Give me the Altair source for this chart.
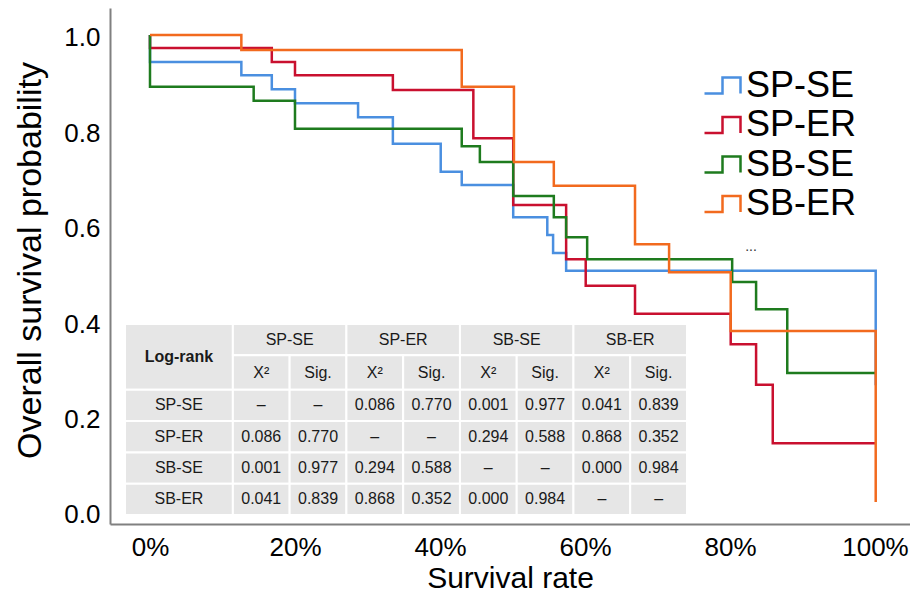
import altair as alt
import pandas as pd

# ---------------- data ----------------
GROUPS = ["SP-SE", "SP-ER", "SB-SE", "SB-ER"]
COLORS = ["#4a8fe0", "#c9102f", "#1e7b1e", "#f26a1e"]

# Kaplan-Meier step points (x = survival rate %, y = survival probability)
SP_SE_T = [0, 0, 12.6, 16.8, 20.0, 28.7, 33.5, 40.1, 43.0, 50.1, 54.8, 55.6, 57.4, 100.1, 100.1]
SP_SE_S = [1.0, 0.942, 0.914, 0.884, 0.854, 0.824, 0.767, 0.707, 0.679, 0.610, 0.572, 0.533, 0.495, 0.495, 0.250]
SP_ER_T = [0, 0, 16.8, 20.0, 33.5, 44.6, 50.1, 57.4, 60.1, 66.9, 80.1, 83.6, 85.9, 100.1]
SP_ER_S = [1.0, 0.972, 0.942, 0.914, 0.882, 0.779, 0.636, 0.520, 0.463, 0.403, 0.338, 0.251, 0.126, 0.126]
SB_SE_T = [0, 0, 14.3, 20.0, 43.0, 45.5, 50.1, 55.7, 57.4, 60.3, 80.3, 83.6, 87.9, 100.1]
SB_SE_S = [1.0, 0.889, 0.859, 0.799, 0.762, 0.728, 0.655, 0.610, 0.567, 0.520, 0.471, 0.413, 0.276, 0.276]
SB_ER_T = [0, 12.6, 43.0, 50.2, 55.7, 66.9, 71.6, 80.1, 100.1, 100.1]
SB_ER_S = [1.0, 0.968, 0.889, 0.728, 0.677, 0.552, 0.492, 0.366, 0.366, 0.0]

X_TICKS = [0, 20, 40, 60, 80, 100]
Y_TICKS = [0.0, 0.2, 0.4, 0.6, 0.8, 1.0]

# Log-rank table
TABLE_CORNER = "Log-rank"
TABLE_SUB = ["X\u00b2", "Sig."]
CHI2 = [[None, 0.086, 0.001, 0.041],
        [0.086, None, 0.294, 0.868],
        [0.001, 0.294, None, 0.000],
        [0.041, 0.868, 0.000, None]]
SIG = [[None, 0.770, 0.977, 0.839],
       [0.770, None, 0.588, 0.352],
       [0.977, 0.588, None, 0.984],
       [0.839, 0.352, 0.984, None]]

NOTE_TEXT = ["..."]
NOTE_T = [82.9]
NOTE_S = [0.545]

# ---------------- layout ----------------
W, H = 800, 516
FONT = "Liberation Sans"
X_DOM = [-5.517, 104.83]
CURVE_Y_DOM = [-0.04711, 1.05782]
LABEL_Y_DOM = [-0.01887, 1.06289]

COL_W = [1.9] + [1.0] * 8
ROW_H = [1.0, 1.1, 1.0, 1.0, 1.0, 1.0]
TABLE_X_RANGE = [15, 577]
TABLE_Y_RANGE = [316, 507]

# ---------------- build tables ----------------
series = {"SP-SE": (SP_SE_T, SP_SE_S), "SP-ER": (SP_ER_T, SP_ER_S),
          "SB-SE": (SB_SE_T, SB_SE_S), "SB-ER": (SB_ER_T, SB_ER_S)}
rows = []
for g, (ts, ss) in series.items():
    for i, (t, s) in enumerate(zip(ts, ss)):
        rows.append({"group": g, "t": t, "s": s, "i": i})
km = pd.DataFrame(rows)

col_e = [0.0]
for w in COL_W:
    col_e.append(col_e[-1] + w)
row_e = [0.0]
for h in ROW_H:
    row_e.append(row_e[-1] + h)


def fmt(v):
    return "\u2013" if v is None else f"{v:.3f}"


cells = []


def add(c0, c1, r0, r1, label, bold=0):
    cells.append({"x0": col_e[c0], "x1": col_e[c1], "y0": row_e[r0], "y1": row_e[r1],
                  "xc": (col_e[c0] + col_e[c1]) / 2, "yc": (row_e[r0] + row_e[r1]) / 2,
                  "label": label, "bold": bold})


add(0, 1, 0, 2, TABLE_CORNER, 1)
for k, g in enumerate(GROUPS):
    add(1 + 2 * k, 3 + 2 * k, 0, 1, g)
    add(1 + 2 * k, 2 + 2 * k, 1, 2, TABLE_SUB[0])
    add(2 + 2 * k, 3 + 2 * k, 1, 2, TABLE_SUB[1])
for r, g in enumerate(GROUPS):
    add(0, 1, 2 + r, 3 + r, g)
    for k in range(4):
        add(1 + 2 * k, 2 + 2 * k, 2 + r, 3 + r, fmt(CHI2[r][k]))
        add(2 + 2 * k, 3 + 2 * k, 2 + r, 3 + r, fmt(SIG[r][k]))
tbl = pd.DataFrame(cells)

note = pd.DataFrame({"t": NOTE_T, "s": NOTE_S, "txt": NOTE_TEXT})
yticks = pd.DataFrame({"v": Y_TICKS})

# ---------------- chart ----------------
STEP_SYMBOL = "M -1 0.45 L 0 0.45 L 0 -0.45 L 1 -0.45 L 1 0.45"

curves = alt.Chart(km).mark_line(interpolate="step-after", strokeWidth=2.5).encode(
    x=alt.X("t:Q", scale=alt.Scale(domain=X_DOM, nice=False, zero=False),
            axis=alt.Axis(values=X_TICKS, labelExpr="datum.value + '%'", title="Survival rate",
                          grid=False, ticks=False, domainColor="#808080", domainWidth=2,
                          labelFontSize=26, labelFont=FONT, labelColor="black", labelPadding=10,
                          labelFlush=False, labelOverlap=False,
                          titleFontSize=30, titleFont=FONT, titleFontWeight="normal",
                          titleColor="black", titleY=63.5, titleBaseline="alphabetic")),
    y=alt.Y("s:Q", scale=alt.Scale(domain=CURVE_Y_DOM, nice=False, zero=False), axis=None),
    color=alt.Color("group:N", scale=alt.Scale(domain=GROUPS, range=COLORS),
                    legend=alt.Legend(title=None, orient="none", legendX=593, legendY=58,
                                      symbolType=STEP_SYMBOL, symbolSize=1296,
                                      symbolStrokeWidth=2.5, symbolFillColor="transparent",
                                      labelFontSize=36, labelFont=FONT, labelColor="black",
                                      labelOffset=4, rowPadding=1.5, padding=0, labelLimit=400)),
    order=alt.Order("i:Q"),
)

yaxis_layer = alt.Chart(yticks).mark_point(opacity=0).encode(
    y=alt.Y("v:Q", scale=alt.Scale(domain=LABEL_Y_DOM, nice=False, zero=False),
            axis=alt.Axis(orient="left", values=Y_TICKS, format=".1f",
                          title="Overall survival probability",
                          grid=False, ticks=False, domainColor="#808080", domainWidth=2,
                          labelFontSize=26, labelFont=FONT, labelColor="black", labelPadding=10,
                          labelFlush=False, labelOverlap=False,
                          titleFontSize=34, titleFont=FONT, titleFontWeight="normal",
                          titleColor="black", titleX=-70, titleY=252,
                          titleBaseline="alphabetic")),
)

note_layer = alt.Chart(note).mark_text(fontSize=14, font=FONT, color="#333333").encode(
    x=alt.X("t:Q", scale=alt.Scale(domain=X_DOM, nice=False, zero=False), axis=None),
    y=alt.Y("s:Q", scale=alt.Scale(domain=CURVE_Y_DOM, nice=False, zero=False), axis=None),
    text="txt:N",
)

tx = alt.Scale(domain=[0, col_e[-1]], range=TABLE_X_RANGE, nice=False, zero=False)
ty = alt.Scale(domain=[0, row_e[-1]], range=TABLE_Y_RANGE, nice=False, zero=False)

cells_layer = alt.Chart(tbl).mark_rect(fill="#e6e6e6", stroke="white", strokeWidth=2).encode(
    x=alt.X("x0:Q", scale=tx, axis=None), x2="x1:Q",
    y=alt.Y("y0:Q", scale=ty, axis=None), y2="y1:Q",
)
text_norm = alt.Chart(tbl).transform_filter("datum.bold == 0").mark_text(
    fontSize=16, font=FONT, color="#1a1a1a", baseline="middle", align="center").encode(
    x=alt.X("xc:Q", scale=tx, axis=None),
    y=alt.Y("yc:Q", scale=ty, axis=None),
    text="label:N",
)
text_bold = alt.Chart(tbl).transform_filter("datum.bold == 1").mark_text(
    fontSize=16, font=FONT, fontWeight="bold", color="#1a1a1a", baseline="middle",
    align="center").encode(
    x=alt.X("xc:Q", scale=tx, axis=None),
    y=alt.Y("yc:Q", scale=ty, axis=None),
    text="label:N",
)

chart = alt.layer(curves, yaxis_layer, note_layer, cells_layer, text_norm, text_bold).resolve_scale(
    x="independent", y="independent"
).properties(
    width=W, height=H,
    autosize=alt.AutoSizeParams(type="none"),
    padding={"left": 102, "top": 0, "right": 0, "bottom": 70},
    background="white",
).configure_view(strokeWidth=0)

chart.save("out.html", embed_options={"renderer": "svg", "actions": False})
